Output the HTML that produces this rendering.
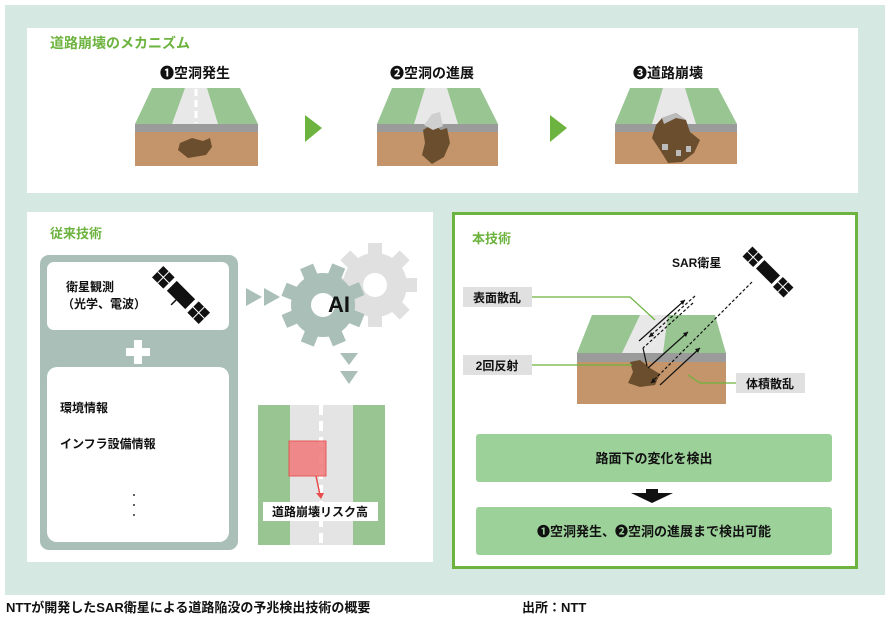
<!DOCTYPE html>
<html><head><meta charset="utf-8"><style>
html,body{margin:0;padding:0;background:#fff;width:893px;height:625px;overflow:hidden}
svg{display:block}
text{font-family:"Liberation Sans","Noto Sans CJK JP",sans-serif;font-weight:bold}
</style></head><body>
<svg width="893" height="625" viewBox="0 0 893 625" xmlns="http://www.w3.org/2000/svg">
<rect x="5" y="5" width="880" height="590" fill="#d6e8e2"/>
<rect x="27" y="28" width="831" height="165" fill="#fff"/>
<text x="50" y="48" font-size="14" fill="#6db33f">道路崩壊のメカニズム</text>
<text x="195" y="78" font-size="14" fill="#111" text-anchor="middle">❶空洞発生</text>
<text x="432" y="78" font-size="14" fill="#111" text-anchor="middle">❷空洞の進展</text>
<text x="668" y="78" font-size="14" fill="#111" text-anchor="middle">❸道路崩壊</text>
<g>
<polygon points="152,88 240,88 258,124 135,124" fill="#98c592"/>
<polygon points="185,88 207,88 218,124 172,124" fill="#e8e8e8"/>
<line x1="196" y1="89" x2="196" y2="123" stroke="#fff" stroke-width="3" stroke-dasharray="7,4"/>
<rect x="135" y="124" width="123" height="8" fill="#9b9b9b"/>
<rect x="135" y="132" width="123" height="34" fill="#c4956a"/>
<polygon points="180,143 192,138 203,141 210,138 212,147 206,155 188,158 178,150" fill="#6b4e2e"/>
</g>
<polygon points="305,115 322,128 305,142" fill="#6db33f"/>
<polygon points="550,115 567,128 550,142" fill="#6db33f"/>
<g>
<polygon points="392,88 480,88 498,124 377,124" fill="#98c592"/>
<polygon points="425,88 447,88 458,124 414,124" fill="#e8e8e8"/>
<rect x="377" y="124" width="121" height="8" fill="#9b9b9b"/>
<rect x="377" y="132" width="121" height="34" fill="#c4956a"/>
<polygon points="423,130 433,124 441,130 447,128 450,143 444,157 432,164 422,155 425,143" fill="#6b4e2e"/>
<polygon points="432,114 440,112 443,126 433,130 424,125" fill="#cfcfcf"/>
</g>
<g>
<polygon points="630,88 718,88 737,124 615,124" fill="#98c592"/>
<polygon points="663,88 685,88 696,124 652,124" fill="#e8e8e8"/>
<rect x="615" y="124" width="122" height="8" fill="#9b9b9b"/>
<rect x="615" y="132" width="122" height="32" fill="#c4956a"/>
<polygon points="662,118 676,113 686,120 690,132 700,140 694,153 682,162 668,163 660,150 652,138 656,125" fill="#6b4e2e"/>
<polygon points="662,118 676,113 686,120 676,118 664,124" fill="#bbb"/>
<rect x="662" y="144" width="6" height="6" fill="#bbb"/><rect x="676" y="150" width="5" height="6" fill="#bbb"/><rect x="686" y="146" width="5" height="6" fill="#bbb"/>
</g>
<rect x="27" y="212" width="406" height="350" fill="#fff"/>
<text x="50" y="238" font-size="13" fill="#6db33f">従来技術</text>
<rect x="40" y="255" width="198" height="295" rx="9" fill="#a9bfb8"/>
<rect x="47" y="262" width="182" height="68" rx="7" fill="#fff"/>
<rect x="47" y="367" width="182" height="175" rx="10" fill="#fff"/>
<rect x="134" y="340" width="8" height="24" fill="#fff"/><rect x="126" y="348" width="24" height="8" fill="#fff"/>
<text x="66" y="291" font-size="12" fill="#111">衛星観測</text>
<text x="62" y="308" font-size="12" fill="#111">（光学、電波）</text>
<g transform="translate(181,295) rotate(-45)">
<rect x="-7" y="-13" width="14" height="26" fill="#111"/>
<rect x="-8" y="-33" width="16" height="16" fill="#111"/><rect x="-8" y="17" width="16" height="16" fill="#111"/>
<g stroke="#fff" stroke-width="1"><line x1="0" y1="-33" x2="0" y2="-17"/><line x1="-8" y1="-25" x2="8" y2="-25"/><line x1="0" y1="17" x2="0" y2="33"/><line x1="-8" y1="25" x2="8" y2="25"/></g>
<line x1="-7" y1="0" x2="-14" y2="0" stroke="#111" stroke-width="1.5"/>
</g>
<text x="60" y="412" font-size="12" fill="#111">環境情報</text>
<text x="60" y="448" font-size="12" fill="#111">インフラ設備情報</text>
<circle cx="134" cy="495" r="1" fill="#333"/><circle cx="134" cy="505" r="1" fill="#333"/><circle cx="134" cy="515" r="1" fill="#333"/>
<polygon points="246,288 262,297 246,306" fill="#a9bfb8"/><polygon points="264,288 280,297 264,306" fill="#a9bfb8"/>
<g fill="#e0e0e0"><circle cx="375" cy="285" r="32"/>
<g transform="translate(375,285)"><rect x="-7" y="-42" width="14" height="84"/><rect x="-42" y="-7" width="84" height="14"/><rect x="-7" y="-42" width="14" height="84" transform="rotate(45)"/><rect x="-7" y="-42" width="14" height="84" transform="rotate(-45)"/></g></g>
<circle cx="375" cy="285" r="12" fill="#fff"/>
<g fill="#a9bfb8"><circle cx="323" cy="305" r="32"/>
<g transform="translate(323,305) rotate(22)"><rect x="-7" y="-42" width="14" height="84"/><rect x="-42" y="-7" width="84" height="14"/><rect x="-7" y="-42" width="14" height="84" transform="rotate(45)"/><rect x="-7" y="-42" width="14" height="84" transform="rotate(-45)"/></g></g>
<circle cx="323" cy="305" r="12" fill="#fff"/>
<text x="328" y="312" font-size="22" fill="#111">AI</text>
<polygon points="340,353 358,353 349,365" fill="#a9bfb8"/><polygon points="340,371 358,371 349,384" fill="#a9bfb8"/>
<rect x="258" y="405" width="127" height="140" fill="#e4e4e4"/>
<rect x="258" y="405" width="32" height="140" fill="#98c592"/><rect x="353" y="405" width="32" height="140" fill="#98c592"/>
<line x1="321" y1="405" x2="321" y2="545" stroke="#fff" stroke-width="4" stroke-dasharray="10,6"/>
<rect x="289" y="441" width="37" height="35" fill="#f07f80" stroke="#e84c4c" stroke-width="1" opacity="0.9"/>
<line x1="316" y1="476" x2="320" y2="495" stroke="#e84c4c" stroke-width="1.5"/>
<polygon points="316,493 324,493 321,499" fill="#e84c4c"/>
<rect x="263" y="502" width="115" height="19" fill="#fff"/>
<text x="320" y="516" font-size="12" fill="#111" text-anchor="middle">道路崩壊リスク高</text>
<rect x="453.5" y="213.5" width="403" height="354" fill="#fff" stroke="#6db33f" stroke-width="3"/>
<text x="472" y="243" font-size="13" fill="#6db33f">本技術</text>
<text x="672" y="267" font-size="12" fill="#111">SAR衛星</text>
<g transform="translate(768,272) rotate(-45)">
<rect x="-6" y="-11" width="12" height="22" fill="#111"/>
<rect x="-7" y="-29" width="14" height="15" fill="#111"/><rect x="-7" y="14" width="14" height="15" fill="#111"/>
<g stroke="#fff" stroke-width="1"><line x1="0" y1="-29" x2="0" y2="-14"/><line x1="-7" y1="-21" x2="7" y2="-21"/><line x1="0" y1="14" x2="0" y2="29"/><line x1="-7" y1="21" x2="7" y2="21"/></g>
</g>
<polygon points="592,315 715,315 726,353 577,353" fill="#98c592"/>
<polygon points="640,315 668,315 663,353 622,353" fill="#e8e8e8"/>
<rect x="577" y="353" width="149" height="9" fill="#9b9b9b"/>
<rect x="577" y="362" width="149" height="42" fill="#c4956a"/>
<polygon points="630,362 640,360 650,368 660,374 655,385 640,387 628,383 633,372" fill="#6b4e2e"/>
<g stroke="#111" stroke-width="1.2" fill="none">
<line x1="639" y1="341" x2="685" y2="300"/><line x1="695" y1="296" x2="649" y2="337" stroke-dasharray="3,2"/>
<line x1="693" y1="303" x2="643" y2="348" stroke-dasharray="3,2"/>
<line x1="648" y1="368" x2="688" y2="332"/>
<line x1="752" y1="282" x2="651" y2="383" stroke-dasharray="3,2"/>
<line x1="660" y1="385" x2="700" y2="348"/>
<line x1="643" y1="348" x2="647" y2="366"/>
</g>
<g fill="#111"><polygon points="685,300 680,301 683,305"/><polygon points="688,332 683,333 686,337"/><polygon points="700,348 695,349 698,353"/><polygon points="649,337 654,336 651,332"/><polygon points="651,383 656,382 653,378"/></g>
<g stroke="#6db33f" stroke-width="1.2" fill="none">
<polyline points="532,297 630,297 655,320"/>
<polyline points="532,365 632,365"/>
<polyline points="736,383 700,383 688,375"/>
</g>
<rect x="463" y="287" width="69" height="20" fill="#e0e0e0"/><text x="497" y="302" font-size="12" fill="#111" text-anchor="middle">表面散乱</text>
<rect x="463" y="355" width="69" height="20" fill="#e0e0e0"/><text x="497" y="370" font-size="12" fill="#111" text-anchor="middle">2回反射</text>
<rect x="736" y="373" width="69" height="20" fill="#e0e0e0"/><text x="770" y="388" font-size="12" fill="#111" text-anchor="middle">体積散乱</text>
<rect x="476" y="434" width="356" height="48" rx="3" fill="#9dd19a"/>
<text x="654" y="463" font-size="13" fill="#111" text-anchor="middle">路面下の変化を検出</text>
<polygon points="631,493 673,493 652,503" fill="#111"/>
<rect x="646" y="489" width="12" height="5" fill="#111"/>
<rect x="476" y="507" width="356" height="48" rx="3" fill="#9dd19a"/>
<text x="654" y="536" font-size="13" fill="#111" text-anchor="middle">❶空洞発生、❷空洞の進展まで検出可能</text>
<text x="6" y="612" font-size="13" fill="#111">NTTが開発したSAR衛星による道路陥没の予兆検出技術の概要</text>
<text x="522" y="612" font-size="13" fill="#111">出所：NTT</text>
</svg>
</body></html>
